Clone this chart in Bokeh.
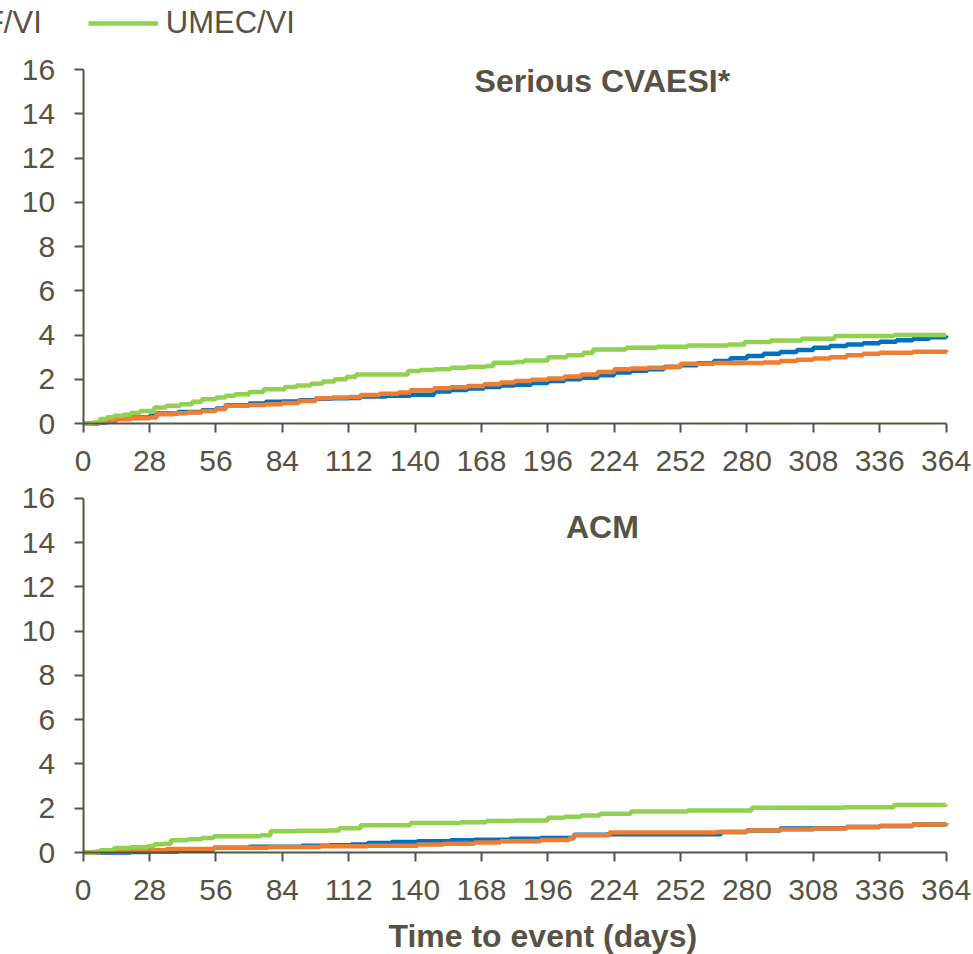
from bokeh.plotting import figure
from bokeh.models import Range1d, FixedTicker, Label, Legend, LegendItem
from bokeh.layouts import column
from bokeh.embed import file_html
from bokeh.resources import INLINE

# ---------------- data ----------------
x_ticks = [0, 28, 56, 84, 112, 140, 168, 196, 224, 252, 280, 308, 336, 364]
y_ticks = [0, 2, 4, 6, 8, 10, 12, 14, 16]

series_names = ["FF/UMEC/VI", "FF/VI", "UMEC/VI"]
series_colors = ["#0070C0", "#ED7D31", "#92D050"]

# Serious CVAESI* panel
cv_trip_days = [0, 6, 10, 14, 20, 28, 31, 40, 50, 56, 60, 70, 77, 84, 91, 98, 105, 112, 117, 128,
                138, 148, 155, 162, 169, 176, 182, 189, 196, 203, 210, 217, 224, 231, 238, 245, 252, 259, 266, 273,
                280, 287, 294, 301, 308, 315, 322, 329, 336, 343, 350, 357, 364]
cv_trip_vals = [0, 0.05, 0.12, 0.2, 0.27, 0.35, 0.45, 0.52, 0.6, 0.68, 0.82, 0.9, 0.98, 1.0, 1.05, 1.12, 1.14, 1.15, 1.22, 1.25,
                1.3, 1.45, 1.52, 1.58, 1.65, 1.72, 1.75, 1.83, 1.92, 2.0, 2.07, 2.18, 2.3, 2.38, 2.45, 2.55, 2.63, 2.72, 2.82, 2.95,
                3.05, 3.15, 3.23, 3.32, 3.42, 3.5, 3.57, 3.63, 3.69, 3.76, 3.83, 3.9, 3.98]

cv_ffvi_days = [0, 7, 10, 14, 20, 28, 31, 38, 44, 50, 56, 60, 70, 77, 84, 91, 98, 105, 112, 117,
                125, 133, 138, 148, 155, 162, 169, 176, 182, 189, 196, 203, 210, 217, 224, 231, 238, 246, 252, 266,
                280, 287, 294, 301, 308, 315, 322, 329, 336, 350, 364]
cv_ffvi_vals = [0, 0.08, 0.14, 0.2, 0.24, 0.27, 0.42, 0.46, 0.5, 0.57, 0.65, 0.8, 0.84, 0.87, 0.93, 1.02, 1.14, 1.17, 1.2, 1.29,
                1.34, 1.4, 1.5, 1.59, 1.64, 1.7, 1.78, 1.85, 1.92, 1.98, 2.04, 2.12, 2.22, 2.33, 2.45, 2.49, 2.52, 2.57, 2.7, 2.74,
                2.74, 2.76, 2.82, 2.88, 2.94, 3.0, 3.09, 3.15, 3.2, 3.24, 3.32]

cv_umvi_days = [0, 4, 7, 10, 13, 17, 20, 24, 30, 35, 41, 46, 50, 56, 60, 64, 70, 76, 85, 90,
                96, 101, 106, 111, 115, 137, 142, 148, 155, 162, 170, 173, 182, 186, 196, 204, 211, 215, 229, 242,
                255, 272, 279, 290, 303, 317, 342, 364]
cv_umvi_vals = [0, 0.05, 0.2, 0.28, 0.35, 0.4, 0.47, 0.57, 0.72, 0.8, 0.87, 0.98, 1.1, 1.17, 1.25, 1.32, 1.42, 1.55, 1.65, 1.72,
                1.8, 1.9, 2.0, 2.1, 2.22, 2.37, 2.42, 2.45, 2.52, 2.57, 2.6, 2.75, 2.78, 2.85, 3.0, 3.08, 3.2, 3.35, 3.42, 3.47,
                3.53, 3.57, 3.68, 3.75, 3.83, 3.95, 4.0, 4.0]

# ACM panel
acm_trip_days = [0, 20, 28, 40, 55, 70, 92, 104, 113, 120, 130, 141, 155, 165, 180, 193, 207, 221, 252, 269,
                 280, 294, 308, 322, 336, 350, 364]
acm_trip_vals = [0, 0.02, 0.05, 0.12, 0.22, 0.26, 0.3, 0.33, 0.36, 0.43, 0.47, 0.51, 0.55, 0.58, 0.62, 0.66, 0.8, 0.82, 0.82, 0.93,
                 1.0, 1.08, 1.1, 1.15, 1.2, 1.26, 1.33]

acm_ffvi_days = [0, 7, 21, 35, 55, 78, 100, 120, 141, 152, 165, 176, 193, 205, 207, 222, 267, 280, 294, 308,
                 322, 336, 350, 364]
acm_ffvi_vals = [0, 0.06, 0.1, 0.16, 0.21, 0.25, 0.28, 0.3, 0.36, 0.4, 0.45, 0.51, 0.57, 0.63, 0.78, 0.9, 0.93, 1.0, 1.04, 1.08,
                 1.15, 1.2, 1.26, 1.33]

acm_umvi_days = [0, 5, 7, 13, 20, 27, 30, 34, 37, 44, 50, 55, 75, 79, 90, 103, 108, 117, 138, 159,
                 170, 182, 196, 203, 210, 218, 231, 255, 282, 321, 342, 364]
acm_umvi_vals = [0, 0.05, 0.1, 0.2, 0.24, 0.28, 0.37, 0.4, 0.55, 0.6, 0.66, 0.73, 0.78, 0.96, 0.98, 1.0, 1.1, 1.23, 1.33, 1.37,
                 1.42, 1.45, 1.57, 1.62, 1.67, 1.75, 1.85, 1.9, 2.02, 2.05, 2.15, 2.17]

panel_titles = ["Serious CVAESI*", "ACM"]
x_title = "Time to event (days)"

# ---------------- style ----------------
TXT = "#585245"
FONT = "Liberation Sans"
FS = "30px"
TFS = "32px"

# visible window in data units (the frame fills the whole canvas; axes sit at x=0 / y=0)
X_VIEW = (-34.89, 375.56)
TOP_Y_VIEW = (-2.395, 19.119)
BOT_Y_VIEW = (-4.61, 16.994)


def make_panel(height, y_view, series, title, title_y):
    p = figure(width=973, height=height, output_backend="svg", toolbar_location=None,
               x_range=Range1d(*X_VIEW), y_range=Range1d(*y_view),
               min_border_left=0, min_border_right=0, min_border_top=0, min_border_bottom=0)
    p.outline_line_color = None
    p.grid.visible = False
    p.background_fill_color = "white"
    p.border_fill_color = "white"
    for ax, ticks in ((p.xaxis[0], x_ticks), (p.yaxis[0], y_ticks)):
        ax.ticker = FixedTicker(ticks=ticks)
        ax.fixed_location = 0
        ax.bounds = (ticks[0], ticks[-1])
        ax.axis_line_color = TXT
        ax.axis_line_width = 2
        ax.major_tick_line_color = TXT
        ax.major_tick_line_width = 2
        ax.major_tick_out = 9
        ax.major_tick_in = 0
        ax.minor_tick_line_color = None
        ax.major_label_text_font = FONT
        ax.major_label_text_font_size = FS
        ax.major_label_text_color = TXT
    p.xaxis[0].major_label_standoff = 18
    p.yaxis[0].major_label_standoff = 19
    rends = []
    for (d, v), c in zip(series, series_colors):
        r = p.step(d, v, mode="after", line_color=c, line_width=4.5)
        rends.append(r)
    p.add_layout(Label(x=219, y=title_y, text=title, text_align="center", text_baseline="middle",
                       text_font=FONT, text_font_size=TFS, text_font_style="bold", text_color=TXT))
    return p, rends


top, top_r = make_panel(476, TOP_Y_VIEW,
                        [(cv_trip_days, cv_trip_vals), (cv_ffvi_days, cv_ffvi_vals), (cv_umvi_days, cv_umvi_vals)],
                        panel_titles[0], 15.5)
bot, bot_r = make_panel(478, BOT_Y_VIEW,
                        [(acm_trip_days, acm_trip_vals), (acm_ffvi_days, acm_ffvi_vals), (acm_umvi_days, acm_umvi_vals)],
                        panel_titles[1], 14.69)

# legend: the reference crops it at the left edge, so it starts off-canvas
legend = Legend(items=[LegendItem(label=series_names[1], renderers=[top_r[1]]),
                       LegendItem(label=series_names[2], renderers=[top_r[2]])],
                location=(-112, 435), orientation="horizontal",
                glyph_width=70, glyph_height=34, label_height=34, label_standoff=8, spacing=46,
                padding=0, margin=0, border_line_color=None, background_fill_alpha=0,
                label_text_font=FONT, label_text_font_size="31px", label_text_color=TXT)
top.add_layout(legend)

bot.add_layout(Label(x=193.9, y=-3.78, text=x_title, text_align="center", text_baseline="middle",
                     text_font=FONT, text_font_size=TFS, text_font_style="bold", text_color=TXT))

layout = column(top, bot)
open("out.html", "w").write(file_html(layout, INLINE))
